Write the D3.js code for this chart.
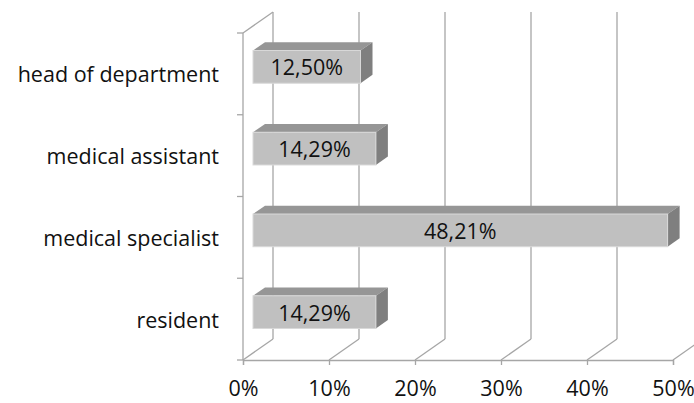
<!DOCTYPE html>
<html>
<head>
<meta charset="utf-8">
<script src="https://cdn.jsdelivr.net/npm/d3@7"></script>
<style>
  html, body { margin: 0; padding: 0; background: #fff; }
  svg text { font-family: "Open Sans", "Noto Sans", sans-serif; fill: #111; }
</style>
</head>
<body>
<svg id="chart" width="694" height="403"></svg>
<script>
// Share of respondents by position
const categories = ["head of department", "medical assistant", "medical specialist", "resident"];
const values = [12.50, 14.29, 48.21, 14.29];
const valueLabels = ["12,50%", "14,29%", "48,21%", "14,29%"];
const tickValues = [0, 10, 20, 30, 40, 50];
const tickLabels = ["0%", "10%", "20%", "30%", "40%", "50%"];

const svg = d3.select("#chart");
const fontSize = "21.5px";

// Plot frame (front plane) and 3D depth vector
const plotLeft = 243, plotRight = 673, plotTop = 33, plotBottom = 360;
const depth = { dx: 30, dy: -21 };
const barFront = 1 / 3;   // front face position as a fraction of depth
const barDepth = 0.4;     // bar thickness as a fraction of depth

const x = d3.scaleLinear().domain([0, 50]).range([plotLeft, plotRight]);
const y = d3.scaleBand().domain(categories).range([plotTop, plotBottom]).padding(0);

const gridColor = "#a6a6a6";
const grid = svg.append("g").attr("stroke", gridColor).attr("stroke-width", 1.3).attr("fill", "none");

// Back wall verticals and floor diagonals for each tick
tickValues.forEach(v => {
  const px = x(v);
  grid.append("line")
    .attr("x1", px + depth.dx).attr("y1", plotTop + depth.dy)
    .attr("x2", px + depth.dx).attr("y2", plotBottom + depth.dy);
  grid.append("line")
    .attr("x1", px).attr("y1", plotBottom)
    .attr("x2", px + depth.dx).attr("y2", plotBottom + depth.dy);
});

// Side wall: front edge and top diagonal
grid.append("line").attr("x1", plotLeft).attr("y1", plotTop).attr("x2", plotLeft).attr("y2", plotBottom);
grid.append("line").attr("x1", plotLeft).attr("y1", plotTop)
  .attr("x2", plotLeft + depth.dx).attr("y2", plotTop + depth.dy);

// Category tick marks on the side wall
const catBounds = categories.map(c => y(c)).concat([plotBottom]);
catBounds.forEach(py => {
  grid.append("line").attr("x1", plotLeft - 6).attr("y1", py).attr("x2", plotLeft).attr("y2", py);
});

// Value axis along the front floor edge
const xAxis = d3.axisBottom(x)
  .tickValues(tickValues)
  .tickFormat((d, i) => tickLabels[i])
  .tickSize(5)
  .tickPadding(16);
const axisG = svg.append("g").attr("transform", `translate(0,${plotBottom})`).call(xAxis);
axisG.select(".domain").attr("stroke", gridColor).attr("stroke-width", 1.3);
axisG.selectAll(".tick line").attr("stroke", gridColor).attr("stroke-width", 1.3);
axisG.selectAll(".tick text")
  .style("font-family", '"Open Sans", "Noto Sans", sans-serif')
  .style("font-size", fontSize).attr("fill", "#111");

// Category labels
svg.append("g").selectAll("text")
  .data(categories)
  .join("text")
  .attr("x", 219)
  .attr("y", d => y(d) + y.bandwidth() / 2)
  .attr("text-anchor", "end")
  .attr("dominant-baseline", "central")
  .style("font-size", fontSize)
  .text(d => d);

// 3D bars
const fdx = depth.dx * barFront, fdy = depth.dy * barFront;
const bdx = depth.dx * barDepth, bdy = depth.dy * barDepth;
const barH = y.bandwidth() * 0.4;

const bars = svg.append("g").selectAll("g")
  .data(categories.map((c, i) => ({ c, v: values[i], label: valueLabels[i] })))
  .join("g");

bars.each(function(d) {
  const g = d3.select(this);
  const x0 = x(0) + fdx, x1 = x(d.v) + fdx;
  const yc = y(d.c) + y.bandwidth() / 2 + fdy;
  const y0 = yc - barH / 2, y1 = yc + barH / 2;
  // top face
  g.append("path")
    .attr("d", `M${x0},${y0}L${x0 + bdx},${y0 + bdy}L${x1 + bdx},${y0 + bdy}L${x1},${y0}Z`)
    .attr("fill", "#969696");
  // end face
  g.append("path")
    .attr("d", `M${x1},${y0}L${x1 + bdx},${y0 + bdy}L${x1 + bdx},${y1 + bdy}L${x1},${y1}Z`)
    .attr("fill", "#7f7f7f");
  // front face
  g.append("rect")
    .attr("x", x0).attr("y", y0)
    .attr("width", x1 - x0).attr("height", barH)
    .attr("fill", "#c0c0c0")
    .attr("stroke", "#d9d9d9").attr("stroke-width", 1);
  // value label
  g.append("text")
    .attr("x", (x0 + x1) / 2)
    .attr("y", yc)
    .attr("text-anchor", "middle")
    .attr("dominant-baseline", "central")
    .style("font-size", fontSize)
    .text(d.label);
});
</script>
</body>
</html>
